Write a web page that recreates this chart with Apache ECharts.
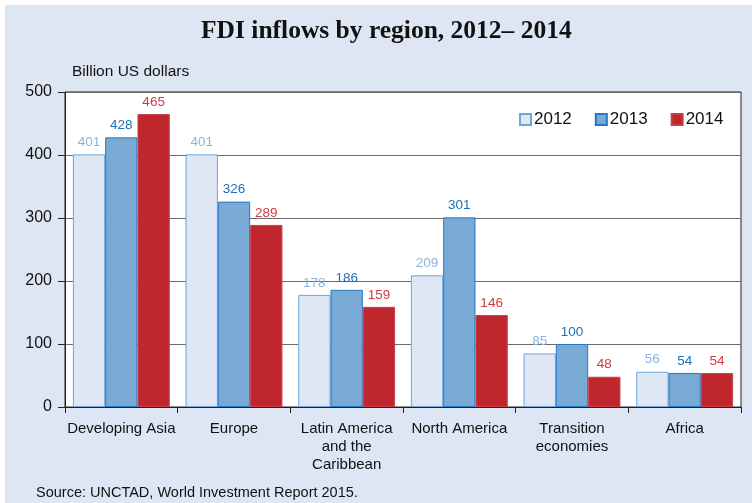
<!DOCTYPE html>
<html><head><meta charset="utf-8">
<script src="https://cdn.jsdelivr.net/npm/echarts@6/dist/echarts.min.js"></script>
<style>html,body{margin:0;padding:0;background:#fff;}#c{width:752px;height:503px;}</style>
</head><body><div id="c"></div>
<script>
const categories = ['Developing Asia', 'Europe', 'Latin America\nand the\nCaribbean', 'North America', 'Transition\neconomies', 'Africa'];
const years = ['2012', '2013', '2014'];
const v2012 = [401, 401, 178, 209, 85, 56];
const v2013 = [428, 326, 186, 301, 100, 54];
const v2014 = [465, 289, 159, 146, 48, 54];
const yTicks = [0, 100, 200, 300, 400, 500];

const chart = echarts.init(document.getElementById('c'));
const sans = 'Liberation Sans, Arial, sans-serif';
const fills = ['#dfe6f4', '#79aad6', '#bf262e'];
const borders = ['#6da5dc', '#2677c4', '#c9404a'];
const labelColors = ['#8db3dd', '#1c70b8', '#d23a40'];
const vals = [v2012, v2013, v2014];

chart.setOption({
  backgroundColor: '#ffffff',
  animation: false,
  graphic: [
    { type: 'rect', z: -10, shape: { x: 5, y: 5, width: 747, height: 498 }, style: { fill: '#dfe6f3' } },
    { type: 'text', left: 36, top: 485, style: { text: 'Source: UNCTAD, World Investment Report 2015.', font: '14.5px Liberation Sans, Arial, sans-serif', fill: '#111' } }
  ],
  title: {
    text: 'FDI inflows by region, 2012\u2013 2014',
    left: 196, top: 13,
    textStyle: { fontFamily: 'Liberation Serif, Times New Roman, serif', fontWeight: 'bold', fontSize: 25.5, color: '#111' }
  },
  legend: {
    data: years, left: 514, top: 106, itemWidth: 11, itemHeight: 11, itemGap: 23,
    icon: 'rect',
    textStyle: { fontFamily: sans, fontSize: 17, color: '#111', padding: [0, 0, 0, -2] }
  },
  grid: { left: 65, top: 92, right: 11, bottom: 96, show: true, borderColor: '#222', borderWidth: 1, backgroundColor: '#fff' },
  xAxis: {
    type: 'category', data: categories,
    axisLine: { lineStyle: { color: '#222' } },
    axisTick: { show: true, length: 6, lineStyle: { color: '#222' } },
    axisLabel: { fontFamily: sans, fontSize: 15, color: '#111', lineHeight: 18, margin: 13, interval: 0 }
  },
  yAxis: {
    type: 'value', min: yTicks[0], max: yTicks[yTicks.length - 1], interval: 100,
    name: 'Billion US dollars', nameLocation: 'end', nameGap: 12,
    nameTextStyle: { fontFamily: sans, fontSize: 15.5, color: '#111', align: 'left', verticalAlign: 'bottom', padding: [0, 0, 0, 7] },
    axisLine: { show: true, lineStyle: { color: '#222' } },
    axisTick: { show: true, length: 7, lineStyle: { color: '#222' } },
    axisLabel: { fontFamily: sans, fontSize: 16, color: '#111', margin: 13 },
    splitLine: { lineStyle: { color: '#6b6b6b', width: 1 } }
  },
  series: years.map((y, i) => ({
    name: y, type: 'bar', data: vals[i], barGap: '0%', barCategoryGap: '14%',
    itemStyle: { color: fills[i], borderColor: borders[i], borderWidth: 1 },
    label: { show: true, position: 'top', distance: 5, fontFamily: sans, fontSize: 13.5, color: labelColors[i] }
  }))
});
</script></body></html>
